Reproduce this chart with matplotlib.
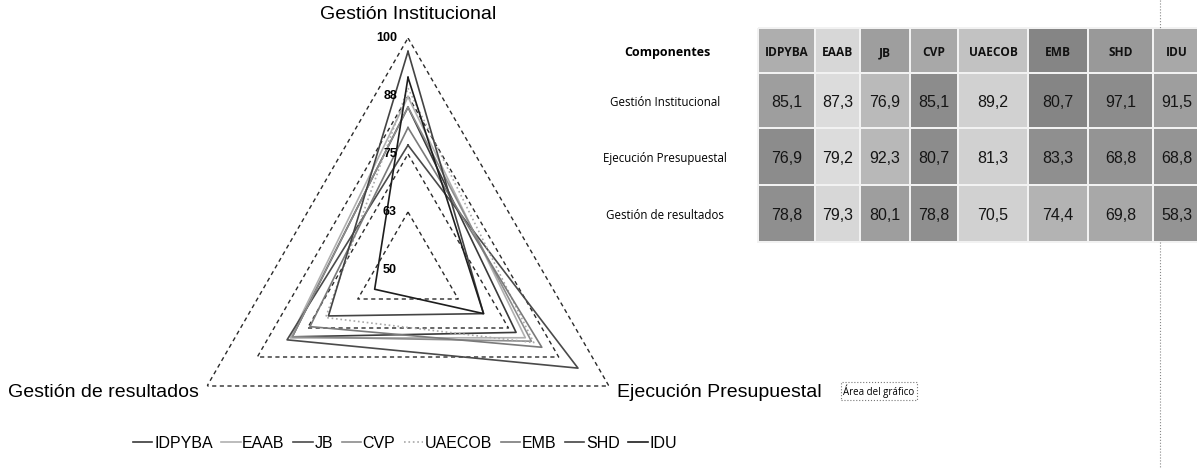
import numpy as np
import matplotlib
matplotlib.use("Agg")
import matplotlib.pyplot as plt

plt.rcParams['font.family'] = ['Liberation Sans', 'DejaVu Sans']

# datos del grafico
componentes = ['Gestión Institucional', 'Ejecución Presupuestal', 'Gestión de resultados']
entidades = ['IDPYBA', 'EAAB', 'JB', 'CVP', 'UAECOB', 'EMB', 'SHD', 'IDU']
gestion_institucional = [85.1, 87.3, 76.9, 85.1, 89.2, 80.7, 97.1, 91.5]
ejecucion_presupuestal = [76.9, 79.2, 92.3, 80.7, 81.3, 83.3, 68.8, 68.8]
gestion_resultados = [78.8, 79.3, 80.1, 78.8, 70.5, 74.4, 69.8, 58.3]
niveles = [50, 62.5, 75, 87.5, 100]
etiquetas_niveles = ['50', '63', '75', '88', '100']

# estilos (gris por entidad, como en el escaneo)
colores = ['#3a3a3a', '#b0b0b0', '#4a4a4a', '#8c8c8c', '#a8a8a8', '#7a7a7a', '#444444', '#1e1e1e']
estilos = ['-', '-', '-', '-', ':', '-', '-', '-']

# tonos de gris de la tabla (fila encabezado + 3 filas)
tonos = [[0.68, 0.84, 0.62, 0.66, 0.76, 0.52, 0.60, 0.66],
         [0.62, 0.86, 0.73, 0.55, 0.82, 0.52, 0.55, 0.62],
         [0.55, 0.86, 0.72, 0.55, 0.82, 0.56, 0.58, 0.58],
         [0.56, 0.84, 0.62, 0.56, 0.82, 0.70, 0.66, 0.58]]

W, H = 1197, 468
fig = plt.figure(figsize=(W / 100, H / 100), dpi=100)

# ---- radar ----
cx, cy, R = 408, 270, 232
ax = fig.add_axes([(cx - R) / W, (H - cy - R) / H, 2 * R / W, 2 * R / H], projection='polar')
ax.set_theta_offset(np.pi / 2)
ax.set_theta_direction(-1)
ax.set_ylim(50, 100)
ax.grid(False)
ax.spines['polar'].set_visible(False)
ax.set_xticks([])
ax.set_yticks([])
ax.patch.set_alpha(0)

ang = np.arange(len(componentes)) * 2 * np.pi / len(componentes)
ang_c = np.append(ang, ang[0])

# anillos triangulares punteados
for nv in niveles[1:]:
    ax.plot(ang_c, [nv] * len(ang_c), color='#2a2a2a', lw=1.0, dashes=(3, 2.5), zorder=1)

# series
valores = np.array([gestion_institucional, ejecucion_presupuestal, gestion_resultados])
lineas = []
for i, ent in enumerate(entidades):
    v = np.append(valores[:, i], valores[0, i])
    ln, = ax.plot(ang_c, v, color=colores[i], ls=estilos[i], lw=1.2, label=ent, zorder=2)
    lineas.append(ln)

# etiquetas del eje de valores
for nv, et in zip(niveles, etiquetas_niveles):
    ax.annotate(et, xy=(0, nv), xytext=(-8, 0), textcoords='offset points',
                ha='right', va='center', fontsize=9, fontweight='bold', annotation_clip=False)

# etiquetas de componentes
ax.annotate(componentes[0], xy=(ang[0], 100), xytext=(0, 11), textcoords='offset points',
            ha='center', va='bottom', fontsize=14, annotation_clip=False)
ax.annotate(componentes[1], xy=(ang[1], 100), xytext=(6, -5), textcoords='offset points',
            ha='left', va='center', fontsize=14, annotation_clip=False)
ax.annotate(componentes[2], xy=(ang[2], 100), xytext=(-6, -5), textcoords='offset points',
            ha='right', va='center', fontsize=14, annotation_clip=False)

fig.legend(lineas, entidades, loc='center', bbox_to_anchor=(405 / W, 1 - 443 / H), ncol=8,
           frameon=False, fontsize=11.5, handlelength=1.2, handletextpad=0.1,
           columnspacing=0.55)

# ---- tabla ----
tab = fig.add_axes([0, 0, 1, 1], zorder=-1)
tab.set_xlim(0, W)
tab.set_ylim(H, 0)
tab.axis('off')

col_bordes = [758, 815, 860, 910, 958, 1028, 1088, 1153, 1200]
fil_bordes = [28, 73, 128, 185, 242]
tab.pcolormesh(col_bordes, fil_bordes, np.array(tonos), cmap='gray', vmin=0, vmax=1,
               edgecolors='#f2f2f2', linewidth=1.2)

xc = [(a + b) / 2 for a, b in zip(col_bordes[:-1], col_bordes[1:])]
yc = [(a + b) / 2 + 2 for a, b in zip(fil_bordes[:-1], fil_bordes[1:])]

fuente_tabla = ['Open Sans', 'DejaVu Sans']
tab.text(667, yc[0], 'Componentes', ha='center', va='center', fontsize=9,
         fontweight='bold', family=fuente_tabla)
for j, ent in enumerate(entidades):
    tab.text(xc[j], yc[0], ent, ha='center', va='center', fontsize=8.6,
             fontweight='bold', family=fuente_tabla, color='#111111')
for i, comp in enumerate(componentes):
    tab.text(665, yc[i + 1], comp, ha='center', va='center', fontsize=8.3,
             family=fuente_tabla)
    for j in range(len(entidades)):
        tab.text(xc[j], yc[i + 1], f"{valores[i, j]:.1f}".replace('.', ','),
                 ha='center', va='center', fontsize=11.5, color='#151515')

# recuadro "Area del grafico" y linea punteada del borde
tab.text(879, 391, 'Área del gráfico', ha='center', va='center', fontsize=7,
         family=fuente_tabla,
         bbox=dict(boxstyle='square,pad=0.25', fc='white', ec='#777777', ls=':', lw=0.8))
tab.plot([1160, 1160], [0, 28], color='#888888', ls=':', lw=0.8)
tab.plot([1160, 1160], [242, 468], color='#888888', ls=':', lw=0.8)

fig.savefig('out.png', dpi=100)
